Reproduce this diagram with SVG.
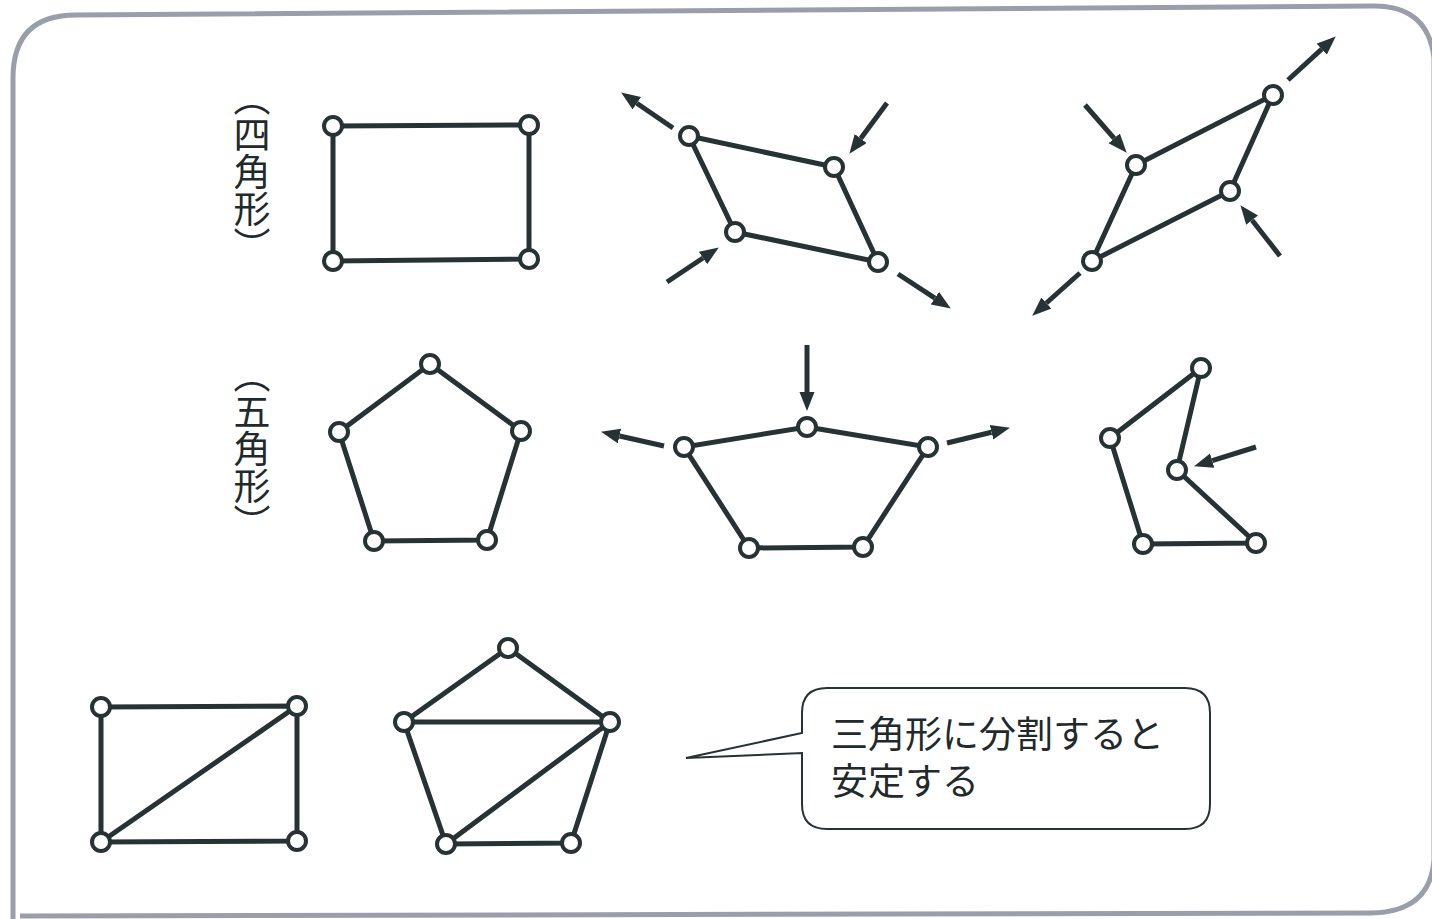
<svg xmlns="http://www.w3.org/2000/svg" width="1432" height="919" viewBox="0 0 1432 919">
<style>
.e{stroke:#263234;stroke-width:5;fill:none;stroke-linecap:round}
.n{fill:#fff;stroke:#263234;stroke-width:4}
.a{stroke:#263234;stroke-width:5;fill:none}
.t{font-family:"Noto Sans CJK JP","Noto Sans",sans-serif;fill:#1f2a2c}
.v{writing-mode:vertical-rl;font-size:37px}
</style>
<defs>
<marker id="ah" markerUnits="userSpaceOnUse" markerWidth="20" markerHeight="16" refX="0" refY="7.5" orient="auto" viewBox="0 0 20 16">
<path d="M0,0 L19,7.5 L0,15 z" fill="#263234"/>
</marker>
</defs>
<rect width="1432" height="919" fill="#fff"/>
<path id="frame" d="M13,919 L13,78 Q13,15 76,15 L1372,6 Q1428,5 1434,58 L1434,860 Q1430,912 1372,913 L20,916" fill="none" stroke="#9a9eaa" stroke-width="5"/>

<g id="label-quad"><text class="t v" x="252" y="172" text-anchor="middle">（四角形）</text></g>
<g id="label-penta"><text class="t v" x="252" y="449" text-anchor="middle">（五角形）</text></g>

<g id="rect1">
<polygon class="e" points="333,126 529,125 529,259 333,261"/>
<circle class="n" cx="333" cy="126" r="9"/><circle class="n" cx="529" cy="125" r="9"/>
<circle class="n" cx="529" cy="259" r="9"/><circle class="n" cx="333" cy="261" r="9"/>
</g>

<g id="para1">
<polygon class="e" points="689,136 834,167 878,262 735,232"/>
<circle class="n" cx="689" cy="136" r="9"/><circle class="n" cx="834" cy="167" r="9"/>
<circle class="n" cx="878" cy="262" r="9"/><circle class="n" cx="735" cy="232" r="9"/>
</g>

<g id="para2">
<polygon class="e" points="1136,165 1273,95 1230,191 1092,261"/>
<circle class="n" cx="1273" cy="95" r="9"/><circle class="n" cx="1136" cy="165" r="9"/>
<circle class="n" cx="1230" cy="191" r="9"/><circle class="n" cx="1092" cy="261" r="9"/>
</g>

<g id="penta1">
<polygon class="e" points="430,364 521,431 487,540 374,541 339,432"/>
<circle class="n" cx="430" cy="364" r="9"/><circle class="n" cx="521" cy="431" r="9"/>
<circle class="n" cx="487" cy="540" r="9"/><circle class="n" cx="374" cy="541" r="9"/>
<circle class="n" cx="339" cy="432" r="9"/>
</g>

<g id="penta2">
<polygon class="e" points="807,427 928,447 863,547 749,548 684,447"/>
<circle class="n" cx="807" cy="427" r="9"/><circle class="n" cx="928" cy="447" r="9"/>
<circle class="n" cx="863" cy="547" r="9"/><circle class="n" cx="749" cy="548" r="9"/>
<circle class="n" cx="684" cy="447" r="9"/>
</g>

<g id="penta3">
<polygon class="e" points="1201,368 1177,470 1256,543 1143,544 1110,438"/>
<circle class="n" cx="1201" cy="368" r="9"/><circle class="n" cx="1177" cy="470" r="9"/>
<circle class="n" cx="1256" cy="543" r="9"/><circle class="n" cx="1143" cy="544" r="9"/>
<circle class="n" cx="1110" cy="438" r="9"/>
</g>

<g id="rect-tri">
<polygon class="e" points="101,707 297,706 297,841 101,842"/>
<line class="e" x1="101" y1="842" x2="297" y2="706"/>
<circle class="n" cx="101" cy="707" r="9"/><circle class="n" cx="297" cy="706" r="9"/>
<circle class="n" cx="297" cy="841" r="9"/><circle class="n" cx="101" cy="842" r="9"/>
</g>

<g id="penta-tri">
<polygon class="e" points="508,648 610,722 571,843 446,844 404,722"/>
<line class="e" x1="404" y1="722" x2="610" y2="722"/>
<line class="e" x1="446" y1="844" x2="610" y2="722"/>
<circle class="n" cx="508" cy="648" r="9"/><circle class="n" cx="610" cy="722" r="9"/>
<circle class="n" cx="571" cy="843" r="9"/><circle class="n" cx="446" cy="844" r="9"/>
<circle class="n" cx="404" cy="722" r="9"/>
</g>

<g id="connectors">
<line class="a" x1="673" y1="128" x2="636.8" y2="103.2" marker-end="url(#ah)"/>
<line class="a" x1="887" y1="103" x2="860.7" y2="138.5" marker-end="url(#ah)"/>
<line class="a" x1="667" y1="282" x2="703" y2="258" marker-end="url(#ah)"/>
<line class="a" x1="898" y1="274" x2="934.9" y2="298.1" marker-end="url(#ah)"/>
<line class="a" x1="1288" y1="80" x2="1321.7" y2="49.2" marker-end="url(#ah)"/>
<line class="a" x1="1085" y1="105" x2="1114.2" y2="138.4" marker-end="url(#ah)"/>
<line class="a" x1="1280" y1="256" x2="1252.1" y2="220.2" marker-end="url(#ah)"/>
<line class="a" x1="1080" y1="273" x2="1046.4" y2="303" marker-end="url(#ah)"/>
<line class="a" x1="807" y1="345" x2="807" y2="392" marker-end="url(#ah)"/>
<line class="a" x1="664" y1="446" x2="619.5" y2="436" marker-end="url(#ah)"/>
<line class="a" x1="947" y1="443" x2="991.5" y2="432.2" marker-end="url(#ah)"/>
<line class="a" x1="1256" y1="447" x2="1212.2" y2="460.6" marker-end="url(#ah)"/>
</g>

<g id="callout">
<path d="M827,688 L1185,688 Q1210,688 1210,713 L1210,804 Q1210,829 1185,829 L827,829 Q802,829 802,804 L802,753 L686,758 L802,733 L802,713 Q802,688 827,688 Z" fill="#fff" stroke="#263234" stroke-width="2"/>
<text class="t" font-size="37"><tspan x="831" y="748">三角形に分割すると</tspan><tspan x="831" y="795">安定する</tspan></text>
</g>
</svg>
